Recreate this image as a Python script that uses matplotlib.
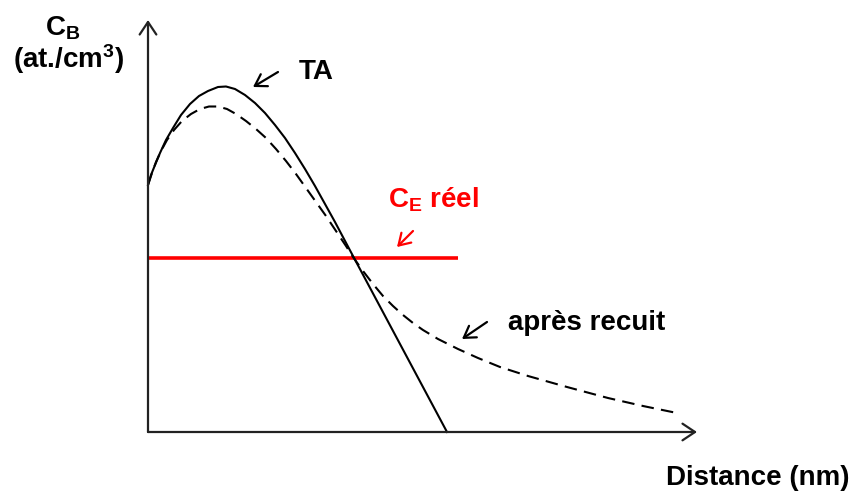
import matplotlib
matplotlib.use("Agg")
import matplotlib.pyplot as plt

plt.rcParams['font.family'] = ['Liberation Sans', 'DejaVu Sans']
plt.rcParams['font.weight'] = 'bold'
plt.rcParams['mathtext.fontset'] = 'custom'
plt.rcParams['mathtext.rm'] = 'Liberation Sans:bold'
plt.rcParams['mathtext.it'] = 'Liberation Sans:bold'
plt.rcParams['mathtext.bf'] = 'Liberation Sans:bold'

# Profile "TA" (solid)
ta_x = [0.0, 0.3, 0.7, 1.2, 1.8, 2.5, 3.3, 4.2, 5.1, 6.0, 7.0, 7.8, 8.7, 9.7,
        10.7, 11.7, 12.7, 13.7, 14.7, 15.7, 16.7, 17.7, 18.7, 20.5, 25.2, 29.9]
ta_y = [24.7, 25.7, 26.7, 27.9, 29.2, 30.4, 31.7, 32.8, 33.6, 34.1, 34.5, 34.55, 34.3, 33.7,
        32.9, 31.9, 30.7, 29.4, 27.9, 26.3, 24.6, 22.8, 21.0, 17.6, 8.8, 0.0]

# Profile "après recuit" (dashed)
rec_x = [0.0, 0.4, 0.8, 1.3, 1.9, 2.6, 3.4, 4.3, 5.2, 6.1, 7.0, 7.9, 8.8, 9.8, 10.8,
         11.8, 12.8, 13.8, 14.8, 15.8, 16.8, 17.8, 18.8, 19.8, 20.5, 21.5, 22.5, 23.5,
         24.5, 25.5, 26.5, 27.5, 29.0, 31.0, 33.0, 35.2, 38.0, 41.9, 46.0, 49.5, 52.9]
rec_y = [24.7, 25.9, 27.0, 28.1, 29.2, 30.2, 31.1, 31.8, 32.3, 32.55, 32.55, 32.3, 31.8,
         31.1, 30.3, 29.4, 28.3, 27.1, 25.8, 24.4, 23.0, 21.6, 20.1, 18.6, 17.5, 16.1,
         14.8, 13.6, 12.6, 11.7, 10.9, 10.2, 9.3, 8.3, 7.4, 6.5, 5.6, 4.5, 3.4, 2.6, 1.9]

# C_E réel level
ce_level = 17.4
ce_x = [0.0, 31.0]

fig = plt.figure(figsize=(8.56, 4.92), dpi=100)
ax = fig.add_axes([0, 0, 1, 1])
ax.set_xlim(-14.8, 70.8)
ax.set_ylim(-6.0, 43.2)
ax.axis('off')

# axes with arrows
axis_arrow = dict(arrowstyle='->,head_length=0.45,head_width=0.3', lw=1.6,
                  color='#222222', mutation_scale=20, shrinkA=0, shrinkB=0)
ax.annotate('', xy=(54.9, 0), xytext=(0, 0), arrowprops=axis_arrow)
ax.annotate('', xy=(0, 41.2), xytext=(0, 0), arrowprops=axis_arrow)

ax.plot(ce_x, [ce_level, ce_level], color='#ff0000', lw=2.6, solid_capstyle='butt')
ax.plot(ta_x, ta_y, color='black', lw=1.5, solid_joinstyle='round')
ax.plot(rec_x, rec_y, color='black', lw=1.5, dashes=(6, 3.5))

fs = 20
ax.text(-8.5, 39.6, r'$\mathrm{C}_{\mathrm{B}}$', fontsize=fs, ha='center', va='baseline')
ax.text(-7.9, 36.4, r'(at./cm$^{3}$)', fontsize=fs, ha='center', va='baseline', fontweight='bold')
ax.text(16.8, 35.3, 'TA', fontsize=fs, ha='center', va='baseline', fontweight='bold')
ax.text(28.6, 22.4, r'$\mathrm{C}_{\mathrm{E}}$' + ' réel', fontsize=fs, ha='center',
        va='baseline', color='#ff0000', fontweight='bold')
ax.text(43.9, 10.2, 'après recuit', fontsize=fs, ha='center', va='baseline', fontweight='bold')
ax.text(61.0, -5.3, 'Distance (nm)', fontsize=fs, ha='center', va='baseline', fontweight='bold')

lab_arrow = dict(arrowstyle='->,head_length=0.4,head_width=0.25', lw=1.6,
                 color='black', mutation_scale=20, shrinkA=0, shrinkB=0)
ax.annotate('', xy=(10.5, 34.5), xytext=(13.0, 36.0), arrowprops=lab_arrow)
ax.annotate('', xy=(31.4, 9.3), xytext=(33.9, 11.0), arrowprops=lab_arrow)
red_arrow = dict(lab_arrow)
red_arrow['color'] = '#ff0000'
ax.annotate('', xy=(24.9, 18.5), xytext=(26.5, 20.1), arrowprops=red_arrow)

fig.savefig('out.png', dpi=100)
